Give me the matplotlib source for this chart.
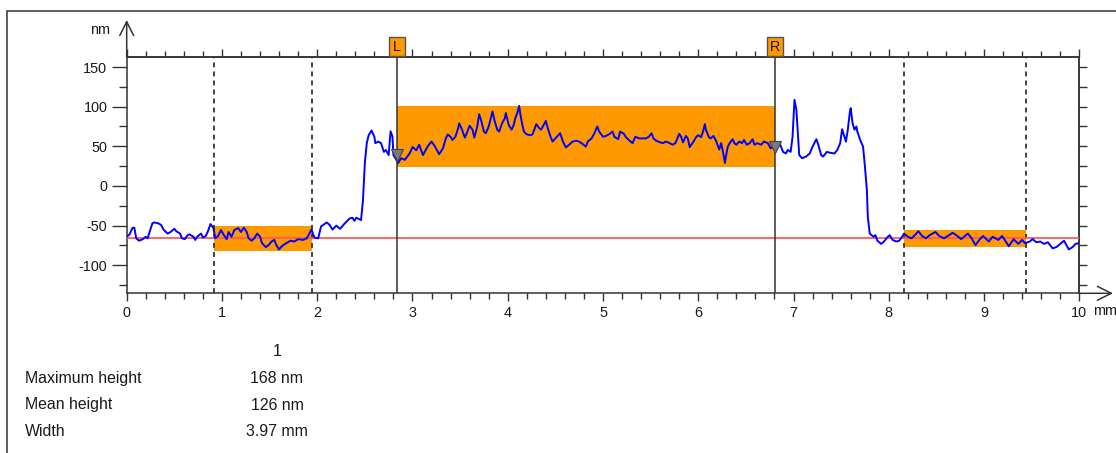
import matplotlib
matplotlib.use('Agg')
import matplotlib.pyplot as plt
import matplotlib.transforms as mtransforms
from matplotlib.ticker import MultipleLocator, NullFormatter, FixedLocator, FixedFormatter
from matplotlib.patches import Rectangle, FancyArrowPatch

plt.rcParams['font.family'] = ['Liberation Sans', 'DejaVu Sans']
plt.rcParams['lines.scale_dashes'] = False

# ---------------- data ----------------
profile_x_mm = [
    0.00, 0.03, 0.06, 0.08, 0.10, 0.13, 0.17, 0.20, 0.22, 0.24, 0.27, 0.29, 0.33, 0.36, 0.39,
    0.43, 0.46, 0.50, 0.52, 0.56, 0.58, 0.61, 0.64, 0.66, 0.70, 0.72, 0.74, 0.78, 0.80, 0.83,
    0.85, 0.88, 0.91, 0.93, 0.96, 0.99, 1.02, 1.05, 1.07, 1.10, 1.13, 1.17, 1.20, 1.23, 1.26,
    1.28, 1.31, 1.34, 1.37, 1.40, 1.42, 1.46, 1.49, 1.52, 1.55, 1.57, 1.60, 1.62, 1.65, 1.69,
    1.72, 1.76, 1.80, 1.85, 1.89, 1.94, 1.97, 2.01, 2.04, 2.10, 2.13, 2.16, 2.20, 2.24, 2.29,
    2.34, 2.37, 2.39, 2.41, 2.46, 2.48, 2.50, 2.52, 2.54, 2.57, 2.60, 2.61, 2.64, 2.67, 2.70,
    2.72, 2.75, 2.77, 2.79, 2.80, 2.83, 2.85, 2.88, 2.92, 2.97, 3.00, 3.04, 3.07, 3.11, 3.16,
    3.20, 3.23, 3.28, 3.32, 3.35, 3.37, 3.40, 3.42, 3.45, 3.48, 3.49, 3.52, 3.55, 3.57, 3.60,
    3.63, 3.65, 3.68, 3.70, 3.72, 3.75, 3.77, 3.80, 3.83, 3.84, 3.86, 3.89, 3.91, 3.94, 3.97,
    3.98, 4.01, 4.04, 4.06, 4.08, 4.10, 4.12, 4.13, 4.15, 4.17, 4.20, 4.24, 4.26, 4.30, 4.33,
    4.35, 4.40, 4.42, 4.45, 4.47, 4.50, 4.53, 4.55, 4.58, 4.61, 4.65, 4.68, 4.72, 4.75, 4.79,
    4.82, 4.84, 4.88, 4.91, 4.94, 4.96, 5.00, 5.03, 5.07, 5.10, 5.12, 5.16, 5.18, 5.22, 5.24,
    5.28, 5.31, 5.34, 5.38, 5.41, 5.45, 5.48, 5.51, 5.53, 5.56, 5.60, 5.63, 5.66, 5.70, 5.73,
    5.76, 5.80, 5.82, 5.84, 5.87, 5.89, 5.91, 5.95, 5.98, 6.00, 6.03, 6.05, 6.07, 6.08, 6.11,
    6.13, 6.16, 6.19, 6.22, 6.24, 6.26, 6.28, 6.29, 6.31, 6.33, 6.36, 6.38, 6.40, 6.43, 6.46,
    6.48, 6.51, 6.54, 6.57, 6.59, 6.62, 6.66, 6.69, 6.73, 6.76, 6.79, 6.82, 6.86, 6.89, 6.92,
    6.94, 6.97, 6.99, 7.01, 7.03, 7.05, 7.06, 7.09, 7.13, 7.17, 7.20, 7.24, 7.26, 7.29, 7.31,
    7.35, 7.38, 7.43, 7.46, 7.49, 7.51, 7.53, 7.55, 7.57, 7.59, 7.60, 7.62, 7.64, 7.66, 7.67,
    7.70, 7.73, 7.75, 7.77, 7.78, 7.80, 7.84, 7.86, 7.88, 7.92, 7.95, 7.99, 8.01, 8.04, 8.08,
    8.11, 8.14, 8.16, 8.20, 8.24, 8.29, 8.31, 8.35, 8.39, 8.43, 8.49, 8.53, 8.58, 8.62, 8.67,
    8.72, 8.76, 8.80, 8.83, 8.87, 8.91, 8.95, 8.99, 9.05, 9.09, 9.15, 9.19, 9.26, 9.31, 9.36,
    9.40, 9.43, 9.48, 9.51, 9.55, 9.59, 9.63, 9.67, 9.72, 9.76, 9.80, 9.84, 9.89, 9.93, 9.96,
    10.00,
]
profile_height_nm = [
    -64, -61, -53, -52.6, -66, -69, -67, -64, -66, -58, -47, -46, -47, -49, -55.5,
    -60, -58, -54, -57, -60, -66, -67, -62, -61, -64, -68, -64, -60, -65, -63,
    -58, -48, -53, -66, -63, -55.5, -62, -67, -58, -64, -55.5, -53, -58, -52.6, -58,
    -66, -69, -66, -60, -64, -72, -77, -74.5, -70, -68, -74.5, -80, -77, -74, -71,
    -69, -70, -67, -68, -66, -55, -65, -66, -51, -46, -49, -55, -50, -54, -47,
    -41, -40, -44, -40, -43, -18, 29, 54, 64, 70, 62, 54, 56, 54, 43,
    45.5, 39, 69, 62, 39, 33, 29, 35, 33, 41, 49, 45, 52, 39, 50,
    56, 51, 40, 47.5, 60, 65, 62, 58, 62, 73, 79, 71, 61, 66.5, 76,
    71, 61, 75, 90.5, 83, 68.6, 66.5, 75, 89.6, 94, 83, 71, 68.6, 79, 85.5,
    92, 77, 71, 76, 85.5, 92, 101, 92, 79, 68.6, 65, 64, 65, 78, 73,
    71, 82, 73, 62, 56, 60, 64, 66.5, 56, 48.6, 52.6, 56, 57, 56, 52.6,
    49.6, 56, 60, 66.5, 75, 68.6, 62, 63, 65.7, 68.6, 62, 59, 68.6, 65.7, 61.6,
    57, 54, 62, 60, 60, 60, 62, 66.5, 60, 57, 55, 54, 56, 54, 52,
    54, 65.7, 62, 55, 63, 60, 49, 56, 62, 64, 61.6, 68.6, 78, 71, 62,
    60, 63, 56, 46, 54, 43, 29, 37, 49.6, 54, 59, 54, 52, 56, 54,
    58, 52, 54, 59, 52, 54, 52, 56, 54, 47.5, 49.6, 54, 52, 43, 41,
    45.5, 43, 62, 108.6, 96, 58, 39, 35, 37, 41, 49.6, 59, 52, 39, 37,
    43, 42, 41, 45.5, 54, 71.6, 64, 56, 71, 92, 98, 79, 71, 75, 68.6,
    58, 49.6, 24, -5, -39, -60, -64, -62, -69, -73, -70, -64, -62, -68, -70,
    -69, -64, -60, -64, -66, -60, -57, -63, -66, -62, -58, -63, -66, -63, -59,
    -63, -67, -63, -60, -66, -74.5, -68, -63, -70, -64, -68, -63, -76, -67, -73,
    -68, -72, -70, -67, -71, -70, -73, -71, -78.6, -77, -73, -69, -80, -77, -73,
    -72,
]

baseline_nm = -66
reference_regions = [  # (x0, x1, y0, y1)
    (0.92, 1.945, -82, -51),
    (8.16, 9.44, -76.5, -55.5),
]
cursor_L_mm, cursor_R_mm = 2.835, 6.805
step_band_nm = (24.5, 101)
cursor_L_height, cursor_R_height = 39, 49

x_ticks = [0, 1, 2, 3, 4, 5, 6, 7, 8, 9, 10]
x_tick_labels = ['0', '1', '2', '3', '4', '5', '6', '7', '8', '9', '10']
y_ticks = [-100, -50, 0, 50, 100, 150]
y_tick_labels = ['-100', '-50', '0', '50', '100', '150']
x_unit = 'mm'
y_unit = 'nm'

table_header = '1'
table_names = ['Maximum height', 'Mean height', 'Width']
table_values = ['168 nm', '126 nm', '3.97 mm']

# ---------------- layout ----------------
W, H, DPI = 1116, 453, 100
fig = plt.figure(figsize=(W / DPI, H / DPI), dpi=DPI)

def fx(px):
    return px / W

def fy(py):
    return 1 - py / H

ax_l, ax_r, ax_t, ax_b = 126.7, 1079.3, 56.7, 293.3
ax = fig.add_axes([fx(ax_l), fy(ax_b), fx(ax_r - ax_l), (ax_b - ax_t) / H])
ax.set_xlim(0, 10)
ax.set_ylim(-135.3, 163)

DARK = '#333333'
ORANGE = '#FF9900'
BLUE = '#0000FF'
RED = '#FF5A5A'
TXT = '#1a1a1a'

for s in ax.spines.values():
    s.set_color(DARK)
    s.set_linewidth(1.1)

# bottom / left ticks
ax.xaxis.set_major_locator(FixedLocator(x_ticks))
ax.xaxis.set_major_formatter(FixedFormatter(x_tick_labels))
ax.xaxis.set_minor_locator(MultipleLocator(0.2))
ax.yaxis.set_major_locator(FixedLocator(y_ticks))
ax.yaxis.set_major_formatter(FixedFormatter(y_tick_labels))
ax.yaxis.set_minor_locator(MultipleLocator(25))
ax.tick_params(axis='x', which='major', direction='out', length=6, width=1.0,
               color=DARK, labelsize=10.4, labelcolor=TXT, pad=3)
ax.tick_params(axis='x', which='minor', direction='out', length=4, width=1.0, color=DARK)
ax.tick_params(axis='y', which='major', direction='out', length=11, width=1.0,
               color=DARK, labelsize=10.4, labelcolor=TXT, pad=3)
ax.tick_params(axis='y', which='minor', direction='out', length=6, width=1.0, color=DARK)

# top / right ticks via secondary axes
secx = ax.secondary_xaxis('top')
secx.xaxis.set_major_locator(MultipleLocator(1))
secx.xaxis.set_minor_locator(MultipleLocator(0.2))
secx.xaxis.set_major_formatter(NullFormatter())
secx.tick_params(which='major', direction='out', length=5.5, width=1.0, color=DARK)
secx.tick_params(which='minor', direction='out', length=4, width=1.0, color=DARK)
secx.spines['top'].set_color(DARK)
secx.spines['top'].set_linewidth(1.1)

secy = ax.secondary_yaxis('right')
secy.yaxis.set_major_locator(MultipleLocator(25))
secy.yaxis.set_minor_locator(FixedLocator([]))
secy.yaxis.set_major_formatter(NullFormatter())
secy.tick_params(which='major', direction='out', length=6, width=1.0, color=DARK)
secy.spines['right'].set_color(DARK)
secy.spines['right'].set_linewidth(1.1)

# ---------------- marks ----------------
for (x0, x1, y0, y1) in reference_regions:
    ax.add_patch(Rectangle((x0, y0), x1 - x0, y1 - y0, facecolor=ORANGE,
                           edgecolor='none', zorder=1))
    ax.axvline(x0, color=DARK, lw=1.3, dashes=(3.5, 3), zorder=2)
    ax.axvline(x1, color=DARK, lw=1.3, dashes=(3.5, 3), zorder=2)

ax.add_patch(Rectangle((cursor_L_mm, step_band_nm[0]), cursor_R_mm - cursor_L_mm,
                       step_band_nm[1] - step_band_nm[0], facecolor=ORANGE,
                       edgecolor='none', zorder=1))

ax.axhline(baseline_nm, color=RED, lw=1.3, zorder=3)
ax.plot(profile_x_mm, profile_height_nm, color=BLUE, lw=1.4, zorder=4)

for cx, cy, lab in [(cursor_L_mm, cursor_L_height, 'L'), (cursor_R_mm, cursor_R_height, 'R')]:
    ax.axvline(cx, color=DARK, lw=1.1, zorder=5)
    ax.plot([cx], [cy], marker='v', ms=8, mfc='#7a7a7a', mec='#444444', mew=0.8,
            zorder=6, linestyle='none')
    # label box sitting on the top spine
    off = mtransforms.ScaledTranslation(cx, 1.0, ax.get_xaxis_transform())
    box = Rectangle((-7.8, 0.5), 15.6, 19, transform=mtransforms.IdentityTransform() + off,
                    facecolor=ORANGE, edgecolor='#555555', lw=1.0, clip_on=False, zorder=7)
    ax.add_artist(box)
    ax.annotate(lab, xy=(cx, 1.0), xycoords=('data', 'axes fraction'),
                xytext=(0, 7.2), textcoords='offset points', ha='center', va='center',
                fontsize=10.4, color=TXT, annotation_clip=False, zorder=8)

# axis arrows (open heads)
arrow_style = '->,head_length=1.0,head_width=0.5'
fig.add_artist(FancyArrowPatch((fx(ax_l), fy(ax_t)), (fx(ax_l), fy(20)),
                               transform=fig.transFigure, arrowstyle=arrow_style,
                               mutation_scale=10, color=DARK, lw=1.1,
                               shrinkA=0, shrinkB=0))
fig.add_artist(FancyArrowPatch((fx(ax_r), fy(ax_b)), (fx(1113), fy(ax_b)),
                               transform=fig.transFigure, arrowstyle=arrow_style,
                               mutation_scale=10, color=DARK, lw=1.1,
                               shrinkA=0, shrinkB=0))

# unit labels
fig.text(fx(110), fy(29.5), y_unit, ha='right', va='center', fontsize=10.4, color=TXT)
fig.text(fx(1093), fy(311), x_unit, ha='left', va='center', fontsize=10.4, color=TXT)

# outer frame
fig.add_artist(Rectangle((fx(6.7), fy(460)), fx(1120), (460 - 11) / H,
                         transform=fig.transFigure, facecolor='none',
                         edgecolor=DARK, lw=1.1, clip_on=False))

# results table
fig.text(fx(277), fy(351.5), table_header, ha='center', va='center', fontsize=11.4, color=TXT)
row_y = [378.3, 405, 431]
for name, val, ry in zip(table_names, table_values, row_y):
    fig.text(fx(25), fy(ry), name, ha='left', va='center', fontsize=11.4, color=TXT)
    fig.text(fx(277), fy(ry), val, ha='center', va='center', fontsize=11.4, color=TXT)

fig.savefig('out.png', dpi=DPI)
